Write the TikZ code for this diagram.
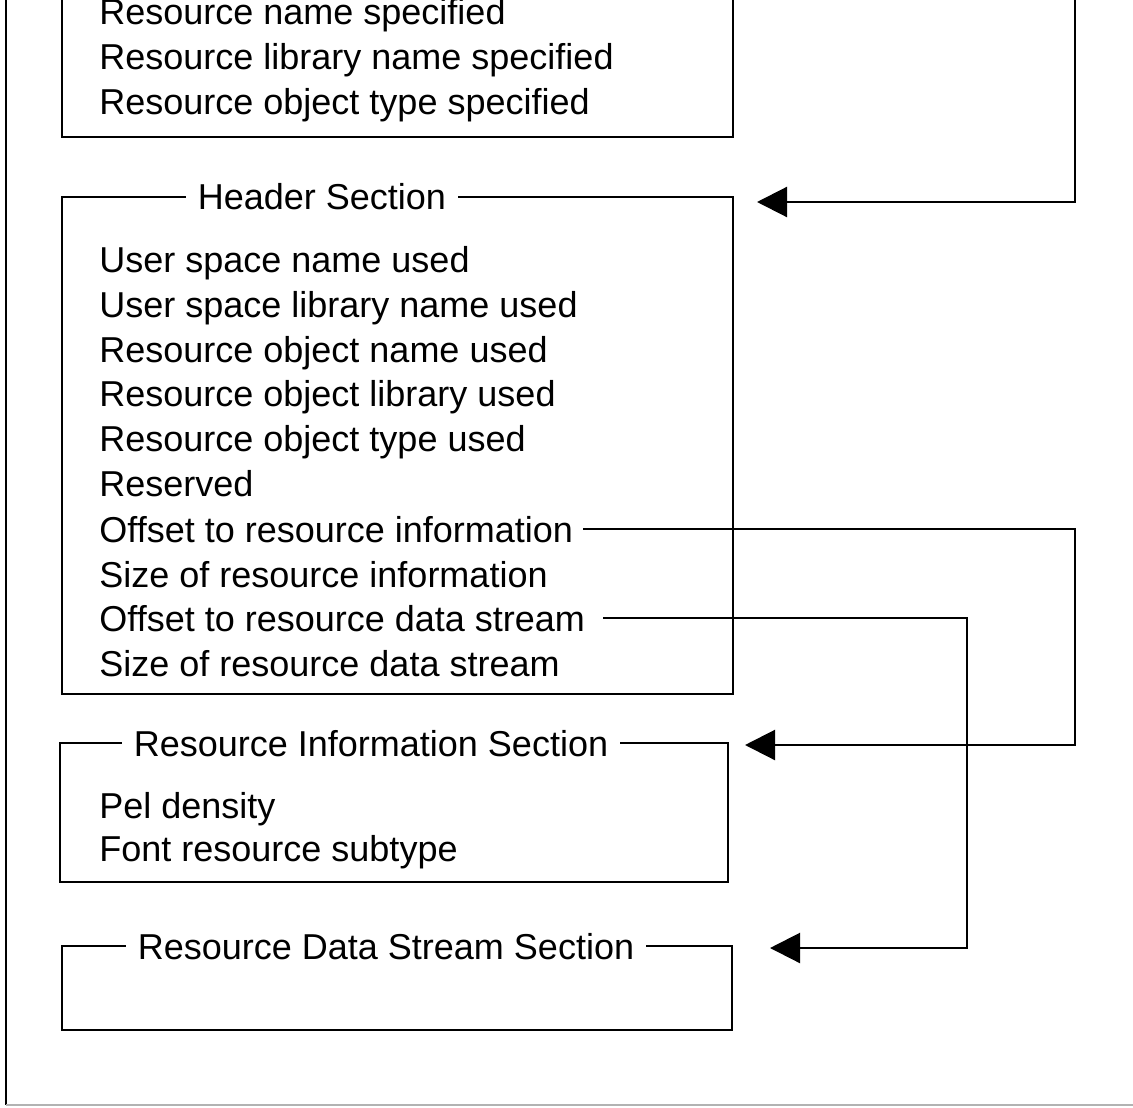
\documentclass[tikz,border=0pt]{standalone}
\usepackage{fontspec}
\setmainfont{Liberation Sans}
\usetikzlibrary{arrows.meta}
\tikzset{
	box/.style={draw=black, line width=1.1pt},
	frame/.style={line width=1.1pt},
	item/.style={anchor=west, inner sep=5pt, text height=17pt, text depth=4pt, font=\fontsize{18}{22}\selectfont},
	title/.style={fill=white, inner xsep=6pt, inner ysep=0pt, text height=17pt, text depth=4pt, font=\fontsize{18}{22}\selectfont},
	link/.style={-{Triangle[length=15pt,width=15pt]}, line width=1.1pt}
}
\begin{document}
\begin{tikzpicture}[x=0.5pt, y=-0.5pt]
		\useasboundingbox (0, 0) rectangle (1133, 1107);

		% page frame
		\draw [frame] (6, 0) -- (6, 1105);
		\draw [frame, black!30] (6, 1105) -- (1133, 1105);

		% boxes
		\draw [box] (62, -5) |- (733, 137) -- (733, -5);
		\draw [box] (62, 197) rectangle (733, 694);
		\draw [box] (60, 743) rectangle (728, 882);
		\draw [box] (62, 946) rectangle (732, 1030);

		\node [title] (hdrtitle) at (322, 197) {Header Section};
		\node [title] (infotitle) at (371, 743) {Resource Information Section};
		\node [title] (datatitle) at (386, 946) {Resource Data Stream Section};

		\node [item] (spec1) at (89, 12) {Resource name specified};
		\node [item] (spec2) at (89, 57) {Resource library name specified};
		\node [item] (spec3) at (89, 102) {Resource object type specified};

		\node [item] (hdr1) at (89, 259) {User space name used};
		\node [item] (hdr2) at (89, 304) {User space library name used};
		\node [item] (hdr3) at (89, 349) {Resource object name used};
		\node [item] (hdr4) at (89, 393) {Resource object library used};
		\node [item] (hdr5) at (89, 438) {Resource object type used};
		\node [item] (hdr6) at (89, 483) {Reserved};
		\node [item] (hdr7) at (89, 529) {Offset to resource information};
		\node [item] (hdr8) at (89, 574) {Size of resource information};
		\node [item] (hdr9) at (89, 618) {Offset to resource data stream};
		\node [item] (hdr10) at (89, 663) {Size of resource data stream};

		\node [item] (info1) at (89, 805) {Pel density};
		\node [item] (info2) at (89, 848) {Font resource subtype};

		\coordinate (above) at (1075, -5);
		\coordinate (hdrtip) at (757, 202);
		\coordinate (infoturn) at (1075, 745);
		\coordinate (infotip) at (745, 745);
		\coordinate (dataturn) at (967, 948);
		\coordinate (datatip) at (770, 948);

		\draw [link] (above) |- (hdrtip);
		\draw [link] (hdr7.east) -| (infoturn) -- (infotip);
		\draw [link] ([xshift=4pt]hdr9.east) -| (dataturn) -- (datatip);
\end{tikzpicture}
\end{document}
